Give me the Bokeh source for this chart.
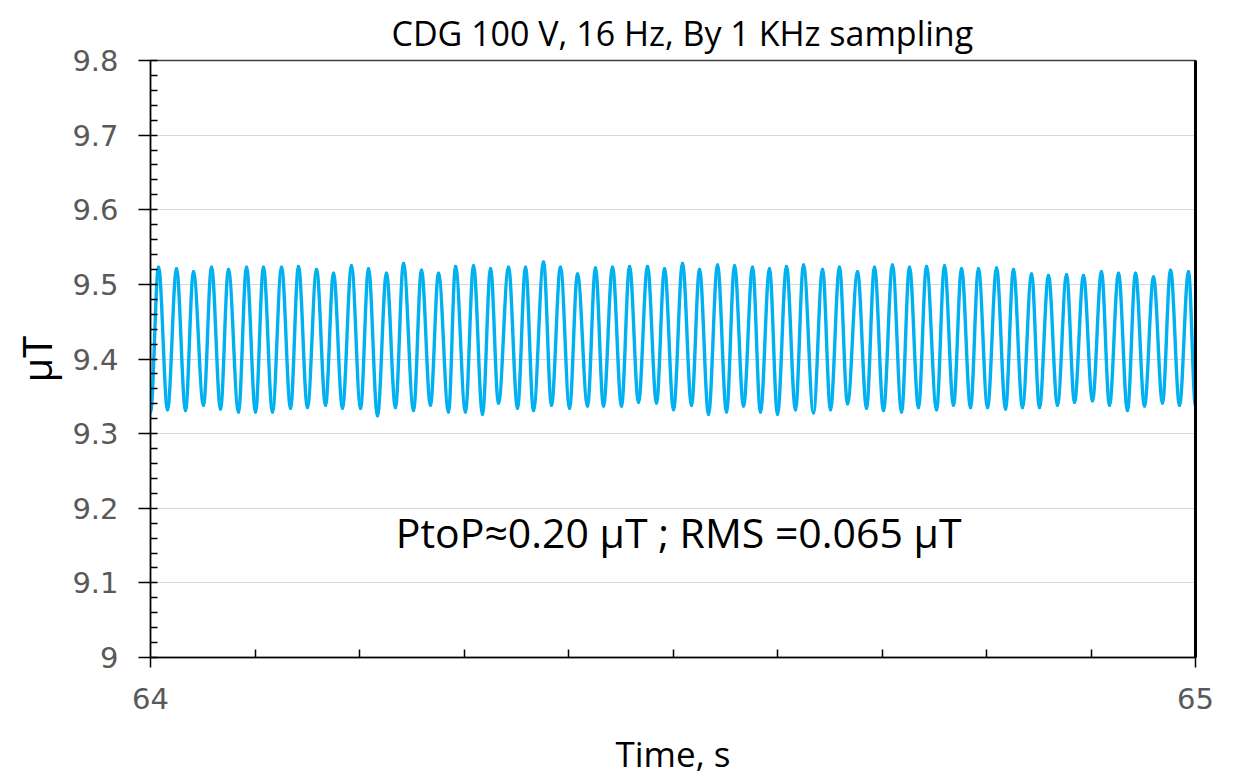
from bokeh.plotting import figure
from bokeh.models import (Range1d, FixedTicker, LinearAxis, Label, CustomJSTickFormatter)
from bokeh.embed import file_html
from bokeh.resources import INLINE

# ---- data ----
title_text = "CDG 100 V, 16 Hz, By  1 KHz sampling"
x_label = "Time, s"
y_label = "\u03bcT"
note_text = "PtoP\u22480.20 \u03bcT ; RMS =0.065  \u03bcT"

x_major_ticks = [64, 65]
x_minor_ticks = [64.1, 64.2, 64.3, 64.4, 64.5, 64.6, 64.7, 64.8, 64.9]
y_major_ticks = [9.0, 9.1, 9.2, 9.3, 9.4, 9.5, 9.6, 9.7, 9.8]
y_minor_ticks = [9.02, 9.04, 9.06, 9.08, 9.12, 9.14, 9.16, 9.18, 9.22, 9.24, 9.26, 9.28,
                 9.32, 9.34, 9.36, 9.38, 9.42, 9.44, 9.46, 9.48, 9.52, 9.54, 9.56, 9.58,
                 9.62, 9.64, 9.66, 9.68, 9.72, 9.74, 9.76, 9.78]

start_t, start_v = 64.0, 9.328
end_t, end_v = 65.0, 9.337

peak_t = [64.0077, 64.0249, 64.0411, 64.0584, 64.0746, 64.0919, 64.1081, 64.1254, 64.1416, 64.1589,
          64.1751, 64.1923, 64.2086, 64.2258, 64.2421, 64.2593, 64.2756, 64.2919, 64.3091, 64.3254,
          64.3426, 64.3589, 64.3761, 64.3923, 64.4086, 64.4258, 64.4421, 64.4584, 64.4756, 64.4919,
          64.5091, 64.5254, 64.5426, 64.5589, 64.5761, 64.5923, 64.6086, 64.6249, 64.6431, 64.6593,
          64.6766, 64.6928, 64.7100, 64.7263, 64.7426, 64.7598, 64.7761, 64.7923, 64.8096, 64.8258,
          64.8431, 64.8593, 64.8766, 64.8928, 64.9100, 64.9263, 64.9426, 64.9598, 64.9761, 64.9933]
peak_v = [9.523, 9.521, 9.517, 9.523, 9.520, 9.523, 9.523, 9.523, 9.524, 9.520,
          9.515, 9.525, 9.521, 9.515, 9.528, 9.519, 9.515, 9.524, 9.525, 9.521,
          9.523, 9.523, 9.530, 9.523, 9.514, 9.522, 9.523, 9.524, 9.524, 9.521,
          9.528, 9.520, 9.526, 9.525, 9.523, 9.521, 9.524, 9.526, 9.520, 9.523,
          9.517, 9.523, 9.526, 9.523, 9.524, 9.525, 9.521, 9.521, 9.522, 9.520,
          9.514, 9.512, 9.513, 9.512, 9.517, 9.515, 9.515, 9.510, 9.519, 9.517]

trough_t = [64.0163, 64.0335, 64.0507, 64.0670, 64.0842, 64.1005, 64.1167, 64.1340, 64.1502, 64.1675,
            64.1837, 64.2010, 64.2172, 64.2344, 64.2517, 64.2679, 64.2852, 64.3014, 64.3177,
            64.3330, 64.3512, 64.3665, 64.3837, 64.4010, 64.4182, 64.4335, 64.4507, 64.4670, 64.4842,
            64.5005, 64.5177, 64.5340, 64.5512, 64.5675, 64.5837, 64.6000, 64.6172, 64.6344, 64.6507,
            64.6670, 64.6852, 64.7014, 64.7187, 64.7349, 64.7522, 64.7684, 64.7847, 64.8010, 64.8182,
            64.8344, 64.8507, 64.8679, 64.8842, 64.9014, 64.9177, 64.9349, 64.9512, 64.9684, 64.9847]
trough_v = [9.332, 9.331, 9.338, 9.333, 9.329, 9.329, 9.329, 9.334, 9.335, 9.338,
            9.334, 9.334, 9.324, 9.335, 9.331, 9.338, 9.329, 9.329, 9.326,
            9.341, 9.334, 9.331, 9.338, 9.334, 9.337, 9.337, 9.337, 9.342, 9.341,
            9.332, 9.338, 9.326, 9.329, 9.337, 9.329, 9.326, 9.332, 9.328, 9.332,
            9.340, 9.334, 9.331, 9.329, 9.335, 9.332, 9.338, 9.335, 9.335, 9.333,
            9.335, 9.335, 9.338, 9.342, 9.344, 9.338, 9.331, 9.337, 9.341, 9.338]

# ---- build the trace (start, peak, trough, peak, ..., peak, end) ----
ts = [start_t]
vs = [start_v]
for i in range(len(peak_t)):
    ts.append(peak_t[i]); vs.append(peak_v[i])
    if i < len(trough_t):
        ts.append(trough_t[i]); vs.append(trough_v[i])
ts.append(end_t); vs.append(end_v)

# smooth curve through successive extrema: cubic segments with flat tangents at the extrema
k = 0.36
x0 = ts[:-1]; y0 = vs[:-1]; x1 = ts[1:]; y1 = vs[1:]
cx0 = [a + (b - a) * k for a, b in zip(x0, x1)]
cx1 = [b - (b - a) * k for a, b in zip(x0, x1)]

W, H = 1243, 779
p = figure(width=W, height=H, output_backend="svg", toolbar_location=None,
           x_range=Range1d(64, 65), y_range=Range1d(9.0, 9.8),
           min_border_left=150, min_border_right=48, min_border_top=60, min_border_bottom=122,
           background_fill_color="white", border_fill_color="white")

p.bezier(x0=x0, y0=y0, x1=x1, y1=y1, cx0=cx0, cy0=y0, cx1=cx1, cy1=y1,
         line_color="#00B0F0", line_width=3.4, line_cap="round")

tick_font = "DejaVu Sans"
lab_font = "Open Sans"

# x axis
xa = p.xaxis[0]
xa.ticker = FixedTicker(ticks=x_major_ticks, minor_ticks=x_minor_ticks)
xa.axis_line_color = "black"; xa.axis_line_width = 1.5
xa.major_tick_line_color = "black"; xa.major_tick_line_width = 1.5
xa.major_tick_out = 10; xa.major_tick_in = 0
xa.minor_tick_line_color = "black"; xa.minor_tick_line_width = 1.5
xa.minor_tick_in = 8; xa.minor_tick_out = 0
xa.major_label_text_font = tick_font
xa.major_label_text_font_size = "29px"
xa.major_label_text_color = "#595959"
xa.major_label_standoff = 20
xa.axis_label = x_label
xa.axis_label_text_font = lab_font
xa.axis_label_text_font_style = "normal"
xa.axis_label_text_font_size = "35px"
xa.axis_label_text_color = "black"
xa.axis_label_standoff = 18

# y axis
ya = p.yaxis[0]
ya.ticker = FixedTicker(ticks=y_major_ticks, minor_ticks=y_minor_ticks)
ya.formatter = CustomJSTickFormatter(code="return String(Math.round(tick*10)/10);")
ya.axis_line_color = "black"; ya.axis_line_width = 1.5
ya.major_tick_line_color = "black"; ya.major_tick_line_width = 1.5
ya.major_tick_out = 12; ya.major_tick_in = 7
ya.minor_tick_line_color = "black"; ya.minor_tick_line_width = 1.5
ya.minor_tick_in = 7; ya.minor_tick_out = 0
ya.major_label_text_font = tick_font
ya.major_label_text_font_size = "29px"
ya.major_label_text_color = "#595959"
ya.major_label_standoff = 20
ya.axis_label = y_label
ya.axis_label_text_font = lab_font
ya.axis_label_text_font_style = "normal"
ya.axis_label_text_font_size = "40px"
ya.axis_label_text_color = "black"
ya.axis_label_standoff = 5

# right frame line
ra = LinearAxis(ticker=FixedTicker(ticks=[]), axis_line_color="black", axis_line_width=3,
                major_tick_line_color=None, minor_tick_line_color=None,
                major_label_text_alpha=0)
p.add_layout(ra, "right")

# grid
p.xgrid.grid_line_color = None
p.ygrid.ticker = FixedTicker(ticks=y_major_ticks)
p.ygrid.grid_line_color = "#D9D9D9"
p.ygrid.grid_line_width = 1.2

p.outline_line_color = "#404040"
p.outline_line_width = 1.5

# title
p.title.text = title_text
p.title.align = "left"
p.title.offset = 241
p.title.text_font = lab_font
p.title.text_font_style = "normal"
p.title.text_font_size = "34px"
p.title.text_color = "black"
p.title.standoff = 10

# annotation
p.add_layout(Label(x=64.5105, y=9.168, text=note_text, text_align="center",
                   text_baseline="middle", text_font=lab_font, text_font_size="41px",
                   text_color="black"))

open("out.html", "w").write(file_html(p, INLINE))
